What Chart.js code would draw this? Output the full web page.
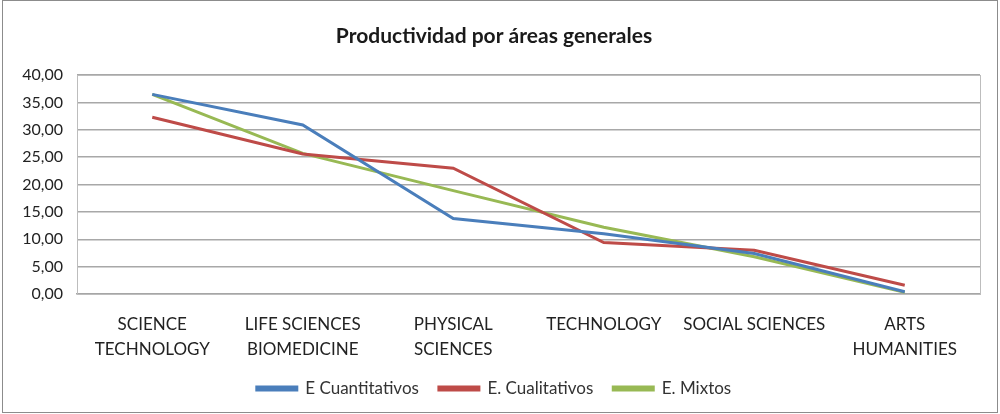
<!DOCTYPE html>
<html><head><meta charset="utf-8">
<script src="https://cdn.jsdelivr.net/npm/chart.js@4/dist/chart.umd.min.js"></script>
<style>html,body{margin:0;padding:0;background:#fff}#wrap{width:1000px;height:414px;position:relative}</style>
</head><body><div id="wrap"><canvas id="c" width="1000" height="414"></canvas></div>
<script>
const categories = [["SCIENCE","TECHNOLOGY"],["LIFE SCIENCES","BIOMEDICINE"],["PHYSICAL","SCIENCES"],"TECHNOLOGY","SOCIAL SCIENCES",["ARTS","HUMANITIES"]];
const cuantitativos = [36.5, 30.9, 13.8, 11.0, 7.4, 0.4];
const cualitativos = [32.3, 25.6, 23.0, 9.4, 8.0, 1.6];
const mixtos = [36.5, 25.7, 18.9, 12.2, 6.8, 0.3];
const seriesNames = ["E Cuantitativos", "E. Cualitativos", "E. Mixtos"];
const yTicks = {min: 0, max: 40, step: 5};
const FONT = "Lato, 'Open Sans', sans-serif";

const frame = {
  id: 'frame',
  beforeDraw(chart) {
    const ctx = chart.ctx;
    ctx.save();
    ctx.fillStyle = '#fff';
    ctx.fillRect(0, 0, chart.width, chart.height);
    ctx.strokeStyle = '#8c8c8c';
    ctx.lineWidth = 1;
    ctx.strokeRect(2.5, 0.5, 995, 412);
    ctx.restore();
  },
  beforeDatasetsDraw(chart) {
    const a = chart.chartArea, ctx = chart.ctx;
    ctx.save();
    ctx.strokeStyle = '#bdbdbd';
    ctx.lineWidth = 1;
    ctx.strokeRect(Math.round(a.left) + 0.5, Math.round(a.top) + 0.5, Math.round(a.right - a.left), Math.round(a.bottom - a.top));
    ctx.restore();
  }
};

const mk = (label, data, color) => ({label, data, borderColor: color, backgroundColor: color, borderWidth: 3, pointRadius: 0, tension: 0, fill: false});

new Chart(document.getElementById('c'), {
  type: 'line',
  data: {
    labels: categories,
    datasets: [
      mk(seriesNames[0], cuantitativos, '#4a7ebb'),
      mk(seriesNames[1], cualitativos, '#be4b48'),
      mk(seriesNames[2], mixtos, '#98b954')
    ]
  },
  options: {
    responsive: false,
    animation: false,
    devicePixelRatio: 1,
    layout: {padding: {left: 8, right: 20, top: 0, bottom: 7}},
    plugins: {
      title: {display: true, text: 'Productividad por áreas generales', color: '#1a1a1a', font: {family: FONT, size: 21, weight: 'bold'}, padding: {top: 24, bottom: 26}},
      legend: {position: 'bottom', labels: {color: '#333', font: {family: FONT, size: 17}, boxWidth: 40, boxHeight: 3, padding: 20}},
      tooltip: {enabled: false}
    },
    scales: {
      x: {
        afterFit(s) { s.height = 66; },
        grid: {display: false, drawTicks: false},
        border: {display: true, color: '#a6a6a6', width: 1.5},
        offset: true,
        ticks: {color: '#222', font: {family: FONT, size: 17, lineHeight: 1.47}, padding: 18, maxRotation: 0, autoSkip: false}
      },
      y: {
        min: yTicks.min, max: yTicks.max,
        afterFit(s) { s.width = 69; },
        grid: {color: '#a8a8a8', lineWidth: 1.6, drawTicks: false},
        border: {display: false},
        ticks: {stepSize: yTicks.step, color: '#222', font: {family: FONT, size: 16}, padding: 14,
          callback: v => v.toFixed(2).replace('.', ',')}
      }
    }
  },
  plugins: [frame]
});
</script></body></html>
